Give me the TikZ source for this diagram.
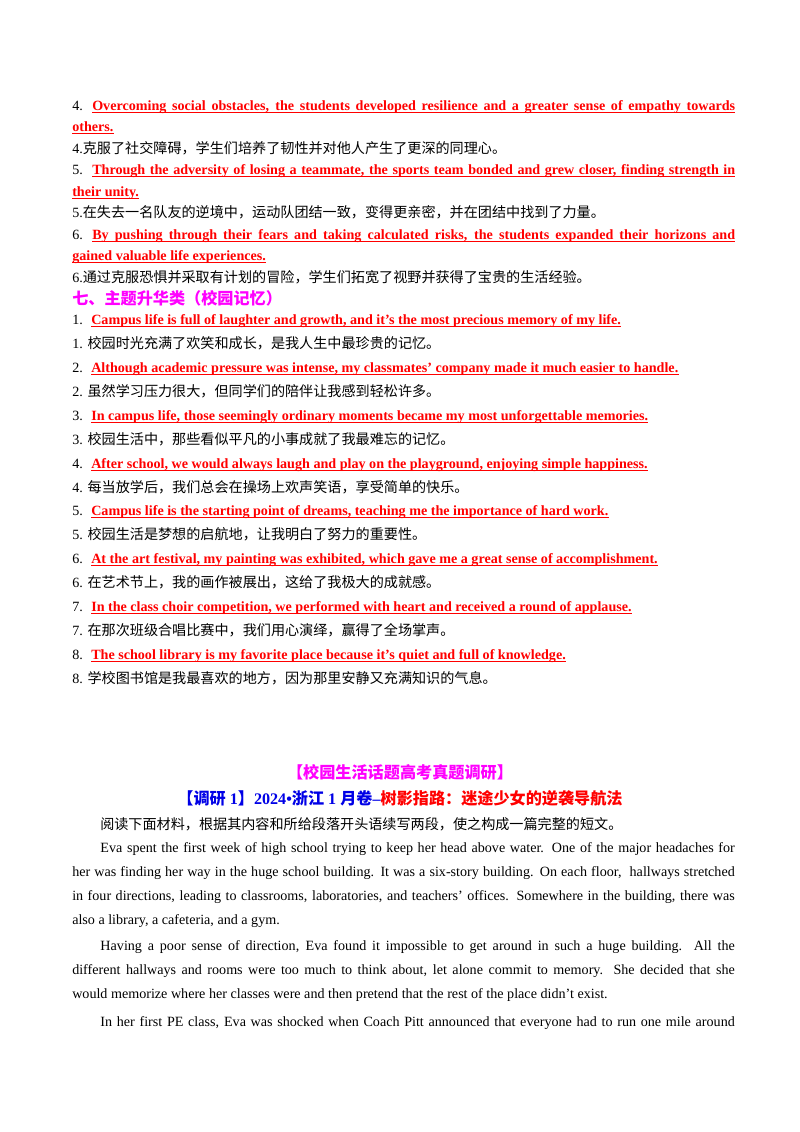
\documentclass[tikz,border=0pt]{standalone}
\usepackage{fontspec}
\setmainfont{Liberation Serif}
\newfontfamily\cjk{Noto Sans CJK SC}
\definecolor{hdmag}{RGB}{255,0,255}
\definecolor{hdblue}{RGB}{0,0,230}
\definecolor{kred}{RGB}{255,0,0}
\newcommand\fullline[1]{\makebox[478.4pt][s]{#1}}
\begin{document}
\begin{tikzpicture}[x=0.7441pt,y=-0.7441pt,
  txt/.style={anchor=base west, inner sep=0pt, font=\fontsize{10.5}{12}\selectfont},
  key/.style={txt, text=kred, font=\fontsize{10.5}{12}\selectfont\bfseries},
  uline/.style={kred, line width=0.6pt},
  head/.style={anchor=base west, inner sep=0pt, text=hdmag, font=\fontsize{12}{14}\selectfont\cjk\bfseries},
  title/.style={anchor=base, inner sep=0pt, font=\fontsize{12}{14}\selectfont\bfseries},
  para/.style={anchor=base west, inner sep=0pt, text width=493pt, align=justify,
    font=\fontsize{10.5}{17.9}\selectfont},
]
\useasboundingbox (0,0) rectangle (800,1132);
%Part one
\node[txt] (n4) at (72,110) {4.};
\node[key] (k4a) at (92,110) {\fullline{Overcoming social obstacles, the students developed resilience and a greater sense of empathy towards}};
\node[key] (k4b) at (72,131) {others.};
\node[txt] (c4) at (72,153) {4.{\cjk 克服了社交障碍，学生们培养了韧性并对他人产生了更深的同理心。}};
\node[txt] (n5) at (72,174) {5.};
\node[key] (k5a) at (92,174) {\fullline{Through the adversity of losing a teammate, the sports team bonded and grew closer, finding strength in}};
\node[key] (k5b) at (72,196) {their unity.};
\node[txt] (c5) at (72,217) {5.{\cjk 在失去一名队友的逆境中，运动队团结一致，变得更亲密，并在团结中找到了力量。}};
\node[txt] (n6) at (72,239) {6.};
\node[key] (k6a) at (92,239) {\fullline{By pushing through their fears and taking calculated risks, the students expanded their horizons and}};
\node[key] (k6b) at (72,260) {gained valuable life experiences.};
\node[txt] (c6) at (72,282) {6.{\cjk 通过克服恐惧并采取有计划的冒险，学生们拓宽了视野并获得了宝贵的生活经验。}};
\node[head] (h7) at (72,304) {七、主题升华类（校园记忆）};
%Part two
\node[txt] (m1) at (72,324) {1.};
\node[key] (r1) at (91,324) {Campus life is full of laughter and growth, and it’s the most precious memory of my life.};
\node[txt] (z1) at (72,348) {1. {\cjk 校园时光充满了欢笑和成长，是我人生中最珍贵的记忆。}};
\node[txt] (m2) at (72,372) {2.};
\node[key] (r2) at (91,372) {Although academic pressure was intense, my classmates’ company made it much easier to handle.};
\node[txt] (z2) at (72,396) {2. {\cjk 虽然学习压力很大，但同学们的陪伴让我感到轻松许多。}};
\node[txt] (m3) at (72,420) {3.};
\node[key] (r3) at (91,420) {In campus life, those seemingly ordinary moments became my most unforgettable memories.};
\node[txt] (z3) at (72,444) {3. {\cjk 校园生活中，那些看似平凡的小事成就了我最难忘的记忆。}};
\node[txt] (m4) at (72,468) {4.};
\node[key] (r4) at (91,468) {After school, we would always laugh and play on the playground, enjoying simple happiness.};
\node[txt] (z4) at (72,492) {4. {\cjk 每当放学后，我们总会在操场上欢声笑语，享受简单的快乐。}};
\node[txt] (m5) at (72,515) {5.};
\node[key] (r5) at (91,515) {Campus life is the starting point of dreams, teaching me the importance of hard work.};
\node[txt] (z5) at (72,539) {5. {\cjk 校园生活是梦想的启航地，让我明白了努力的重要性。}};
\node[txt] (m6) at (72,563) {6.};
\node[key] (r6) at (91,563) {At the art festival, my painting was exhibited, which gave me a great sense of accomplishment.};
\node[txt] (z6) at (72,587) {6. {\cjk 在艺术节上，我的画作被展出，这给了我极大的成就感。}};
\node[txt] (m7) at (72,611) {7.};
\node[key] (r7) at (91,611) {In the class choir competition, we performed with heart and received a round of applause.};
\node[txt] (z7) at (72,635) {7. {\cjk 在那次班级合唱比赛中，我们用心演绎，赢得了全场掌声。}};
\node[txt] (m8) at (72,659) {8.};
\node[key] (r8) at (91,659) {The school library is my favorite place because it’s quiet and full of knowledge.};
\node[txt] (z8) at (72,683) {8. {\cjk 学校图书馆是我最喜欢的地方，因为那里安静又充满知识的气息。}};
%Underlines
\foreach \k in {k4a,k4b,k5a,k5b,k6a,k6b,r1,r2,r3,r4,r5,r6,r7,r8}
  \draw[uline] ([yshift=-1.6pt]\k.base west) -- ([yshift=-1.6pt]\k.base east);
%Part three
\node[title, text=hdmag] (t1) at (400,778) {\cjk 【校园生活话题高考真题调研】};
\node[title] (t2) at (400,804) {\textcolor{hdblue}{{\cjk 【调研} 1{\cjk 】}2024•{\cjk 浙江} 1 {\cjk 月卷}--}\textcolor{kred}{\cjk 树影指路：迷途少女的逆袭导航法}};
\node[txt] (intro) at (100,829) {\cjk 阅读下面材料，根据其内容和所给段落开头语续写两段，使之构成一篇完整的短文。};
\node[para] (p1) at (72,852) {\hspace*{21pt}Eva spent the first week of high school trying to keep her head above water. One of the major headaches for\linebreak her was finding her way in the huge school building. It was a six-story building. On each floor,\ \ hallways stretched\linebreak in four directions, leading to classrooms, laboratories, and teachers’ offices. Somewhere in the building, there was\linebreak also a library, a cafeteria, and a gym.};
\node[para] (p2) at (72,950) {\hspace*{21pt}Having a poor sense of direction, Eva found it impossible to get around in such a huge building. All the\linebreak different hallways and rooms were too much to think about, let alone commit to memory. She decided that she\linebreak would memorize where her classes were and then pretend that the rest of the place didn’t exist.};
\node[para] (p3) at (72,1026) {\hspace*{21pt}In her first PE class, Eva was shocked when Coach Pitt announced that everyone had to run one mile around\linebreak};
\end{tikzpicture}
\end{document}
